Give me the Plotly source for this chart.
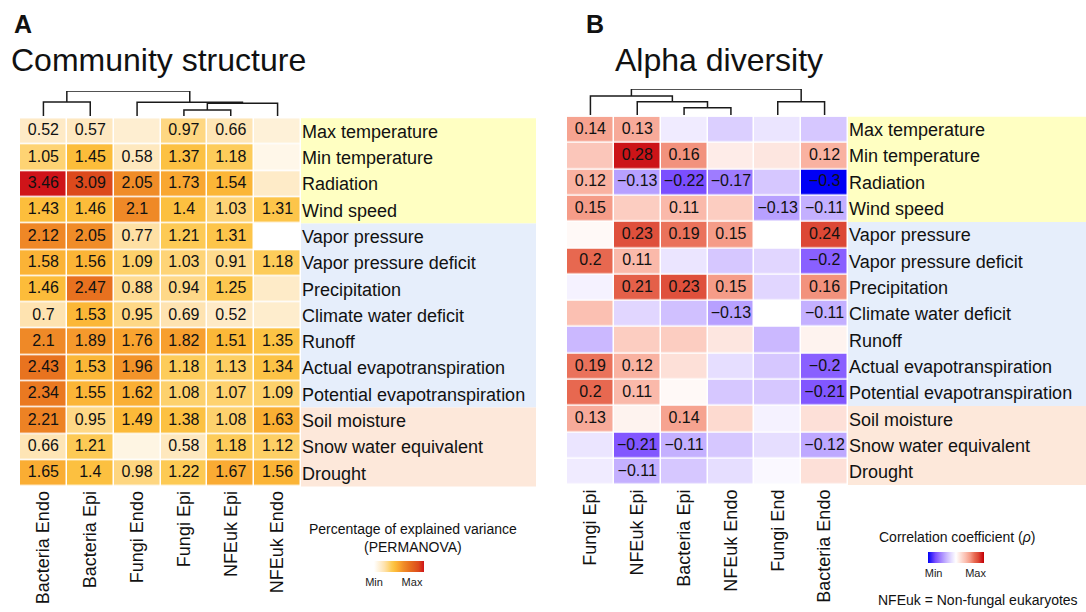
import plotly.graph_objects as go

W, H = 1086, 612

# ---------------- data ----------------
rows = ["Max temperature", "Min temperature", "Radiation", "Wind speed",
        "Vapor pressure", "Vapor pressure deficit", "Precipitation",
        "Climate water deficit", "Runoff", "Actual evapotranspiration",
        "Potential evapotranspiration", "Soil moisture",
        "Snow water equivalent", "Drought"]
row_group_sizes = [4, 7, 3]

cols_A = ["Bacteria Endo", "Bacteria Epi", "Fungi Endo", "Fungi Epi", "NFEuk Epi", "NFEuk Endo"]
cols_B = ["Fungi Epi", "NFEuk Epi", "Bacteria Epi", "NFEuk Endo", "Fungi End", "Bacteria Endo"]

# PERMANOVA explained variance (%) ; non-significant cells estimated from colour
values_A = [
    [0.52, 0.57, 0.42, 0.97, 0.66, 0.35],
    [1.05, 1.45, 0.58, 1.37, 1.18, 0.20],
    [3.46, 3.09, 2.05, 1.73, 1.54, 0.50],
    [1.43, 1.46, 2.10, 1.40, 1.03, 1.31],
    [2.12, 2.05, 0.77, 1.21, 1.31, 0.00],
    [1.58, 1.56, 1.09, 1.03, 0.91, 1.18],
    [1.46, 2.47, 0.88, 0.94, 1.25, 0.50],
    [0.70, 1.53, 0.95, 0.69, 0.52, 0.45],
    [2.10, 1.89, 1.76, 1.82, 1.51, 1.35],
    [2.43, 1.53, 1.96, 1.18, 1.13, 1.34],
    [2.34, 1.55, 1.62, 1.08, 1.07, 1.09],
    [2.21, 0.95, 1.49, 1.38, 1.08, 1.63],
    [0.66, 1.21, 0.25, 0.58, 1.18, 1.12],
    [1.65, 1.40, 0.98, 1.22, 1.67, 1.56],
]
sig_A = [
    [1, 1, 0, 1, 1, 0],
    [1, 1, 1, 1, 1, 0],
    [1, 1, 1, 1, 1, 0],
    [1, 1, 1, 1, 1, 1],
    [1, 1, 1, 1, 1, 0],
    [1, 1, 1, 1, 1, 1],
    [1, 1, 1, 1, 1, 0],
    [1, 1, 1, 1, 1, 0],
    [1, 1, 1, 1, 1, 1],
    [1, 1, 1, 1, 1, 1],
    [1, 1, 1, 1, 1, 1],
    [1, 1, 1, 1, 1, 1],
    [1, 1, 0, 1, 1, 1],
    [1, 1, 1, 1, 1, 1],
]

# Spearman correlation (rho) ; non-significant cells estimated from colour
values_B = [
    [0.14, 0.13, -0.03, -0.07, -0.04, -0.08],
    [0.09, 0.28, 0.16, 0.03, 0.04, 0.12],
    [0.12, -0.13, -0.22, -0.17, -0.08, -0.30],
    [0.15, 0.08, 0.11, 0.08, -0.13, -0.11],
    [0.01, 0.23, 0.19, 0.15, 0.00, 0.24],
    [0.20, 0.11, -0.04, -0.08, -0.06, -0.20],
    [-0.02, 0.21, 0.23, 0.15, -0.06, 0.16],
    [0.10, -0.06, -0.09, -0.13, 0.00, -0.11],
    [-0.10, 0.08, 0.08, 0.04, -0.10, 0.02],
    [0.19, 0.12, 0.05, -0.05, -0.08, -0.20],
    [0.20, 0.11, 0.01, -0.08, -0.08, -0.21],
    [0.13, 0.02, 0.14, 0.06, -0.02, 0.05],
    [-0.04, -0.21, -0.11, -0.08, -0.05, -0.12],
    [-0.03, -0.11, -0.08, -0.05, -0.01, 0.05],
]
sig_B = [
    [1, 1, 0, 0, 0, 0],
    [0, 1, 1, 0, 0, 1],
    [1, 1, 1, 1, 0, 1],
    [1, 0, 1, 0, 1, 1],
    [0, 1, 1, 1, 0, 1],
    [1, 1, 0, 0, 0, 1],
    [0, 1, 1, 1, 0, 1],
    [0, 0, 0, 1, 0, 1],
    [0, 0, 0, 0, 0, 0],
    [1, 1, 0, 0, 0, 1],
    [1, 1, 0, 0, 0, 1],
    [1, 0, 1, 0, 0, 0],
    [0, 1, 1, 0, 0, 1],
    [0, 1, 0, 0, 0, 0],
]

# dendrograms: (left node, right node, height); new nodes numbered from n_leaves
linkage_A = [(0, 1, 14.0), (3, 4, 6.0), (7, 5, 12.7), (2, 8, 13.7), (6, 9, 25.0)]
linkage_B = [(2, 3, 7.3), (1, 6, 13.3), (0, 7, 19.0), (4, 5, 13.3), (8, 9, 26.0)]

# ---------------- helpers ----------------
FONT = "Liberation Sans, Arial, Helvetica, sans-serif"


def px_x(x):
    return x / W


def px_y(y):
    return 1 - y / H


def fmt(v):
    s = f"{v:g}"
    return s.replace("-", "\u2212")


def cell_labels(vals, sig, cols):
    xs, ys, ts = [], [], []
    for r, (vr, sr) in enumerate(zip(vals, sig)):
        for c, (v, s) in enumerate(zip(vr, sr)):
            if s:
                xs.append(cols[c])
                ys.append(rows[r])
                ts.append(fmt(v))
    return xs, ys, ts


def dendro_xy(links, n):
    pos = {i: (float(i), 0.0) for i in range(n)}
    xs, ys = [], []
    for k, (a, b, h) in enumerate(links):
        xa, ya = pos[a]
        xb, yb = pos[b]
        xs += [xa, xa, xb, xb, None]
        ys += [ya, h, h, yb, None]
        pos[n + k] = ((xa + xb) / 2, h)
    return xs, ys


zmax_A = max(max(r) for r in values_A)
scale_A = [
    [0.0, "#FFFFFF"], [0.1445, "#FEEBC8"], [0.2023, "#FEE3B0"], [0.2746, "#FED886"],
    [0.3468, "#FDCB56"], [0.4191, "#FCBD3A"], [0.5058, "#F9A530"], [0.5925, "#F08C28"],
    [0.7081, "#E8721F"], [0.8931, "#DC4A1C"], [1.0, "#CF1419"],
]
zmin_B, zmax_B = -0.3, 0.3
scale_B = [
    [0.0, "#0000F5"], [0.1333, "#7B4EFF"], [0.2167, "#9E7CFF"], [0.2833, "#B7A0FF"],
    [0.3333, "#CBB8FF"], [0.4167, "#E6DEFF"], [0.5, "#FFFFFF"], [0.5833, "#FDE0D8"],
    [0.6667, "#FBC0B2"], [0.75, "#F59C88"], [0.8333, "#E76850"], [0.9, "#DC4835"],
    [0.9667, "#CC1418"], [1.0, "#C00000"],
]

fig = go.Figure()

fig.add_trace(go.Heatmap(
    z=values_A, x=cols_A, y=rows,
    colorscale=scale_A, zmin=0, zmax=zmax_A, xgap=1.5, ygap=1.5,
    xaxis="x", yaxis="y", hoverinfo="skip",
    colorbar=dict(orientation="h", x=px_x(399), xanchor="center", y=px_y(561), yanchor="top",
                  len=50, lenmode="pixels", thickness=11, thicknessmode="pixels",
                  xpad=0, ypad=0, outlinewidth=0, ticks="",
                  tickvals=[0, 0.76 * zmax_A], ticktext=["Min", "Max"],
                  tickfont=dict(size=11, family=FONT, color="#222")),
))

fig.add_trace(go.Heatmap(
    z=values_B, x=cols_B, y=rows,
    colorscale=scale_B, zmin=zmin_B, zmax=zmax_B, xgap=1.5, ygap=1.5,
    xaxis="x2", yaxis="y2", hoverinfo="skip",
    colorbar=dict(orientation="h", x=px_x(956), xanchor="center", y=px_y(551.7), yanchor="top",
                  len=56, lenmode="pixels", thickness=11, thicknessmode="pixels",
                  xpad=0, ypad=0, outlinewidth=0, ticks="",
                  tickvals=[zmin_B + 0.1 * (zmax_B - zmin_B), zmin_B + 0.85 * (zmax_B - zmin_B)],
                  ticktext=["Min", "Max"],
                  tickfont=dict(size=11, family=FONT, color="#222")),
))

for vals, sig, cols, xa, ya in [(values_A, sig_A, cols_A, "x", "y"), (values_B, sig_B, cols_B, "x2", "y2")]:
    tx, ty, tt = cell_labels(vals, sig, cols)
    fig.add_trace(go.Scatter(x=tx, y=ty, text=tt, mode="text",
                             textfont=dict(size=16, color="#111111", family=FONT),
                             xaxis=xa, yaxis=ya, hoverinfo="skip", showlegend=False))

dxA, dyA = dendro_xy(linkage_A, len(cols_A))
fig.add_trace(go.Scatter(x=dxA, y=dyA, mode="lines", line=dict(color="#1a1a1a", width=1.5),
                         xaxis="x3", yaxis="y3", hoverinfo="skip", showlegend=False))
dxB, dyB = dendro_xy(linkage_B, len(cols_B))
fig.add_trace(go.Scatter(x=dxB, y=dyB, mode="lines", line=dict(color="#1a1a1a", width=1.5),
                         xaxis="x4", yaxis="y4", hoverinfo="skip", showlegend=False))

domA_x = [px_x(20), px_x(301)]
domA_y = [px_y(486.5), px_y(118.3)]
domB_x = [px_x(567), px_x(848)]
domB_y = [px_y(485), px_y(116.7)]

n_rows = len(rows)
common_x = dict(tickangle=-90, tickfont=dict(size=18, family=FONT, color="#111"), showgrid=False,
                zeroline=False, showline=False, ticks="", type="category")
common_y = dict(side="right", range=[n_rows - 0.5, -0.5], autorange=False,
                tickfont=dict(size=18, family=FONT, color="#111"),
                showgrid=False, zeroline=False, showline=False, ticks="", type="category",
                categoryorder="array", categoryarray=rows)

fig.update_layout(
    width=W, height=H, margin=dict(l=0, r=0, t=0, b=0),
    paper_bgcolor="white", plot_bgcolor="rgba(0,0,0,0)",
    font=dict(family=FONT, color="#111"),
    showlegend=False,
    xaxis=dict(domain=domA_x, anchor="y", categoryorder="array", categoryarray=cols_A,
               range=[-0.5, len(cols_A) - 0.5], autorange=False, **common_x),
    yaxis=dict(domain=domA_y, anchor="x", **common_y),
    xaxis2=dict(domain=domB_x, anchor="y2", categoryorder="array", categoryarray=cols_B,
                range=[-0.5, len(cols_B) - 0.5], autorange=False, **common_x),
    yaxis2=dict(domain=domB_y, anchor="x2", **common_y),
    xaxis3=dict(domain=domA_x, anchor="y3", range=[-0.5, len(cols_A) - 0.5], visible=False),
    yaxis3=dict(domain=[px_y(116), px_y(91)], anchor="x3", range=[0, 25], visible=False),
    xaxis4=dict(domain=domB_x, anchor="y4", range=[-0.5, len(cols_B) - 0.5], visible=False),
    yaxis4=dict(domain=[px_y(115), px_y(89)], anchor="x4", range=[0, 26], visible=False),
)

# label background bands
band_colors = ["#FFFFC2", "#E6EEFB", "#FDE8DA"]
for xref, yref, ext in [("x domain", "y domain", (536 - 301) / 281), ("x2 domain", "y2 domain", (1086 - 848) / 281)]:
    start = 0
    for size, col in zip(row_group_sizes, band_colors):
        fig.add_shape(type="rect", xref=xref, yref=yref, x0=1, x1=1 + ext,
                      y0=1 - (start + size) / n_rows, y1=1 - start / n_rows,
                      fillcolor=col, line=dict(width=0), layer="below")
        start += size

annos = [
    dict(text="<b>A</b>", x=px_x(12), y=px_y(24), size=25, xanchor="left"),
    dict(text="Community structure", x=px_x(9), y=px_y(60), size=32, xanchor="left"),
    dict(text="<b>B</b>", x=px_x(584), y=px_y(24), size=25, xanchor="left"),
    dict(text="Alpha diversity", x=px_x(613), y=px_y(60), size=32, xanchor="left"),
    dict(text="Percentage of explained variance<br>(PERMANOVA)", x=px_x(413), y=px_y(538), size=14, xanchor="center"),
    dict(text="Correlation coefficient (<i>\u03c1</i>)", x=px_x(877), y=px_y(537), size=14, xanchor="left"),
    dict(text="NFEuk = Non-fungal eukaryotes", x=px_x(876), y=px_y(600), size=14, xanchor="left"),
]
for a in annos:
    fig.add_annotation(text=a["text"], x=a["x"], y=a["y"], xref="paper", yref="paper",
                       xanchor=a["xanchor"], yanchor="middle", showarrow=False,
                       font=dict(size=a["size"], family=FONT, color="#111"))

fig.write_html("out.html")
